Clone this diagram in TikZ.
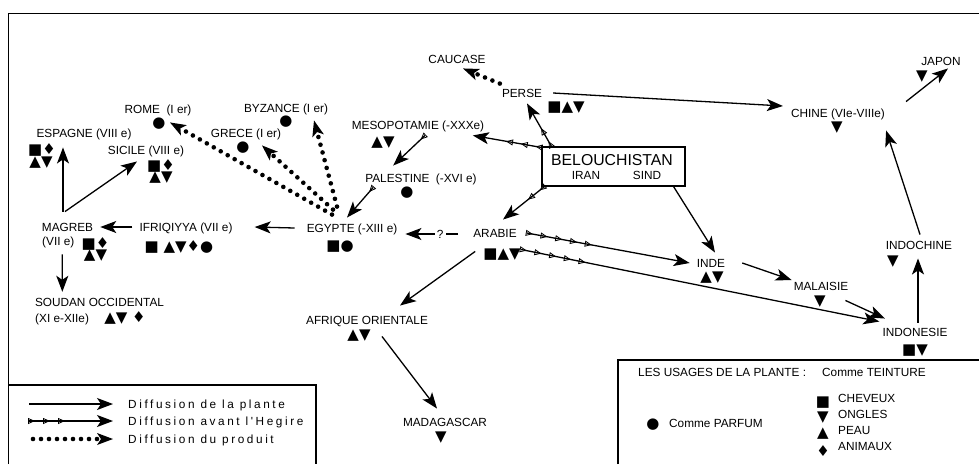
\documentclass[tikz,border=0pt]{standalone}
\usepackage{fontspec}
\setmainfont{Liberation Sans}
\newfontfamily\symfont{DejaVu Sans}
\newfontfamily\legfont{Liberation Sans}[LetterSpace=22]
\usetikzlibrary{arrows.meta}
\usetikzlibrary{decorations.markings}
\newcommand\lieufont{\fontsize{11.8}{13}\selectfont}
\tikzset{
  lieu/.style={inner sep=1pt, text height=8.5pt, text depth=0pt, font=\lieufont},
  legende/.style={inner sep=0pt, text height=8.5pt, text depth=0pt, font=\legfont\fontsize{11.8}{13}\selectfont},
  marques/.style={inner sep=0pt, font=\symfont\fontsize{15}{15}\selectfont},
  plante/.style={line width=1.3pt, -{Stealth[length=16pt 0 0,width=12pt 0 0,inset=4pt 0 0]}},
  hegire/.style={plante, postaction={decorate, decoration={markings,
      mark=between positions 6pt and #1 step 15pt with {\arrow{Triangle[open,length=7pt 0 0,width=6pt 0 0,line width=0.8pt]}}}}},
  hegire/.default=-24pt,
  produit/.style={line width=4.6pt, line cap=round, dash pattern=on 0pt off 8pt,
      -{Stealth[length=16pt 0 0,width=12pt 0 0,inset=4pt 0 0,line width=0pt]}},
}
\begin{document}
\begin{tikzpicture}[x=1pt, y=-1pt]
  \useasboundingbox (0,0) rectangle (979,464);
  % cadre et legendes
  \draw [line width=1.5pt] (8.5,464) -- (8.5,13.5) -- (979,13.5);
  \draw [line width=1.1pt] (8.5,385) -- (316,385) -- (316,464);
  \draw [line width=1.1pt] (618,464) -- (618,360) -- (979,360);

  % lieux
  \node (caucase) [lieu] at (457,59) {CAUCASE};
  \node (perse) [lieu] at (522,93) {PERSE};
  \node (persesym) [marques] at (566,108) {■▲▼};
  \node (chine) [lieu] at (838,113) {CHINE (VIe-VIIIe)};
  \node (chinesym) [marques] at (837,128) {▼};
  \node (japon) [lieu] at (941,61) {JAPON};
  \node (japonsym) [marques] at (922,77) {▼};
  \node (mesopotamie) [lieu] at (418,125) {MESOPOTAMIE (-XXXe)};
  \node (mesosym) [marques] at (383,143) {▲▼};
  \node (palestine) [lieu] at (421,178) {PALESTINE\ \ (-XVI e)};
  \node (palsym) [marques] at (407,193) {●};
  \node (rome) [lieu] at (158,109) {ROME\ \ (I er)};
  \node (romesym) [marques] at (159,124) {●};
  \node (byzance) [lieu] at (286,108) {BYZANCE (I er)};
  \node (byzsym) [marques] at (286,122) {●};
  \node (grece) [lieu] at (246,133) {GRECE (I er)};
  \node (grecesym) [marques] at (243,148) {●};
  \node (espagne) [lieu] at (84,133) {ESPAGNE (VIII e)};
  \node (espsym) [marques] at (42,150) {■♦};
  \node (espsymb) [marques] at (41,162.5) {▲▼};
  \node (sicile) [lieu] at (146,150) {SICILE (VIII e)};
  \node (sicsym) [marques] at (161,165.5) {■♦};
  \node (sicsymb) [marques] at (161,178) {▲▼};
  \node (magreb) [lieu] at (67.5,227) {MAGREB};
  \node (magrebsiecle) [lieu, anchor=west] at (41,241) {(VII e)};
  \node (magsym) [marques] at (95.5,243.5) {■♦};
  \node (magsymb) [marques] at (95.5,256) {▲▼};
  \node (ifriqiyya) [lieu] at (186,227) {IFRIQIYYA (VII e)};
  \node (ifrsym) [marques] at (179,247) {■ ▲▼♦●};
  \node (egypte) [lieu] at (352,228) {EGYPTE (-XIII e)};
  \node (egysym) [marques] at (340,247) {■●};
  \node (arabie) [lieu] at (495,233) {ARABIE};
  \node (arabsym) [marques] at (502,255) {■▲▼};
  \node (soudan) [lieu] at (99.5,302) {SOUDAN OCCIDENTAL};
  \node (soudansiecle) [lieu, anchor=west] at (34,318) {(XI e-XIIe)};
  \node (soudsym) [marques] at (125,318) {▲▼ ♦};
  \node (afrique) [lieu] at (367,320) {AFRIQUE ORIENTALE};
  \node (afrsym) [marques] at (359,336) {▲▼};
  \node (madagascar) [lieu] at (445,422) {MADAGASCAR};
  \node (madsym) [marques] at (441,438) {▼};
  \node (inde) [lieu] at (711,263) {INDE};
  \node (indesym) [marques] at (712,278) {▲▼};
  \node (malaisie) [lieu] at (821,286) {MALAISIE};
  \node (malsym) [marques] at (820,302) {▼};
  \node (indonesie) [lieu] at (915,332) {INDONESIE};
  \node (indosym) [marques] at (915,351) {■▼};
  \node (indochine) [lieu] at (919,245) {INDOCHINE};
  \node (indochsym) [marques] at (893,262) {▼};

  \node (belou) [draw, line width=1.1pt, minimum width=143pt, minimum height=39pt, inner sep=0pt] at (613.5,166.5) {};
  \node (beloutitre) [lieu, font=\fontsize{15.8}{18}\selectfont, text height=11.3pt] at (612,160) {BELOUCHISTAN};
  \node (iran) [lieu] at (586,175) {IRAN};
  \node (sind) [lieu] at (647,175) {SIND};

  % diffusion de la plante
  \draw [plante] ([xshift=10pt]perse.east) -- ([shift={(-7,-7)}]chine.west);
  \draw [plante] ([shift={(20,-6)}]chine.north east) -- ([shift={(7,2)}]japon.south);
  \draw [plante] ([xshift=-12pt]belou.south east) -- ([shift={(4,-5)}]inde.north);
  \draw [plante] ([xshift=16pt]inde.east) -- ([shift={(-1,-6)}]malaisie.west);
  \draw [plante] ([shift={(-4,9)}]malaisie.south east) -- ([shift={(3.5,-8)}]indonesie.north west);
  \draw [plante] ([shift={(3,-4)}]indonesie.north) -- ([shift={(-1,8)}]indochine.south);
  \draw [plante] ([shift={(1,-5)}]indochine.north) -- ([yshift=-12pt]chine.south east);
  \draw [plante] ([shift={(3,13)}]arabie.south west) -- ([shift={(33,-9)}]afrique.north);
  \draw [plante] ([shift={(15,11)}]afrique.south) -- ([shift={(-8,-8)}]madagascar.north);
  \draw [plante] ([shift={(-14,1)}]arabie.west) -- node [pos=0.34, fill=white, inner sep=2pt, font=\lieufont] (question) {?} ([shift={(7,6)}]egypte.east);
  \draw [plante] ([xshift=-11pt]egypte.west) -- ([xshift=21pt]ifriqiyya.east);
  \draw [plante] ([xshift=-6pt]ifriqiyya.west) -- ([xshift=6pt]magreb.east);
  \draw [plante] ([shift={(-4.5,-10)}]magreb.north) -- ([shift={(-21,9)}]espagne.south);
  \draw [plante] ([shift={(-2.5,-10)}]magreb.north) -- ([shift={(-9,6)}]sicile.south);
  \draw [plante] ([shift={(4,8)}]magrebsiecle.south) -- ([shift={(28.5,-4.75)}]soudan.north west);

  % diffusion avant l'Hegire
  \draw [hegire] ([xshift=10pt]belou.north west) -- ([shift={(5,5)}]perse.south);
  \draw [hegire] ([yshift=-1pt]belou.north west) -- ([shift={(-12.5,5)}]mesopotamie.south east);
  \draw [hegire] ([xshift=3pt]belou.south west) -- ([shift={(8,-8)}]arabie.north);
  \draw [hegire] ([shift={(7,5)}]mesopotamie.south) -- ([shift={(29,-7)}]palestine.north west);
  \draw [hegire] ([shift={(9,4)}]palestine.south west) -- ([shift={(-5,-5)}]egypte.north);
  \draw [hegire=70pt] ([xshift=9pt]arabie.east) -- ([xshift=-6pt]inde.west);
  \draw [hegire=70pt] ([shift={(3,11)}]arabie.south east) -- ([shift={(-2,-5)}]indonesie.north west);

  % diffusion du produit
  \draw [produit] ([shift={(-1,-4)}]perse.north west) -- ([shift={(6,4)}]caucase.south);
  \draw [produit] ([shift={(-20,-8)}]egypte.north) -- ([shift={(12,8)}]rome.south);
  \draw [produit] ([shift={(-19,-13)}]egypte.north) -- ([shift={(16,7)}]grece.south);
  \draw [produit] ([shift={(-15,-16)}]egypte.north) -- ([shift={(28,7)}]byzance.south);

  % legende des fleches
  \coordinate (legplante) at (29,404);
  \coordinate (leghegire) at (29,421);
  \coordinate (legproduit) at (33,439);
  \node (txtplante) [legende, anchor=west] at (128,404) {Diffusion de la plante};
  \node (txthegire) [legende, anchor=west] at (128,421) {Diffusion avant l'Hegire};
  \node (txtproduit) [legende, anchor=west] at (128,439) {Diffusion du produit};
  \draw [plante] (legplante) -- ([xshift=-15pt]txtplante.west);
  \draw [hegire=40pt] (leghegire) -- ([xshift=-15pt]txthegire.west);
  \draw [produit] (legproduit) -- ([xshift=-15pt]txtproduit.west);

  % legende des usages
  \node (usages) [lieu, anchor=west] at (637,372) {LES USAGES DE LA PLANTE :};
  \node (teinture) [lieu, anchor=west] at (821,372) {Comme TEINTURE};
  \node (cheveuxsym) [marques] at (823,403) {■};
  \node (cheveux) [lieu, anchor=west] at (837,398) {CHEVEUX};
  \node (onglessym) [marques] at (823,418) {▼};
  \node (ongles) [lieu, anchor=west] at (837,414) {ONGLES};
  \node (peausym) [marques] at (823,434) {▲};
  \node (peau) [lieu, anchor=west] at (837,430) {PEAU};
  \node (animauxsym) [marques] at (823,451) {♦};
  \node (animaux) [lieu, anchor=west] at (837,446) {ANIMAUX};
  \node (parfumsym) [marques] at (653,425) {●};
  \node (parfum) [lieu, anchor=west] at (668,423) {Comme PARFUM};
\end{tikzpicture}
\end{document}
